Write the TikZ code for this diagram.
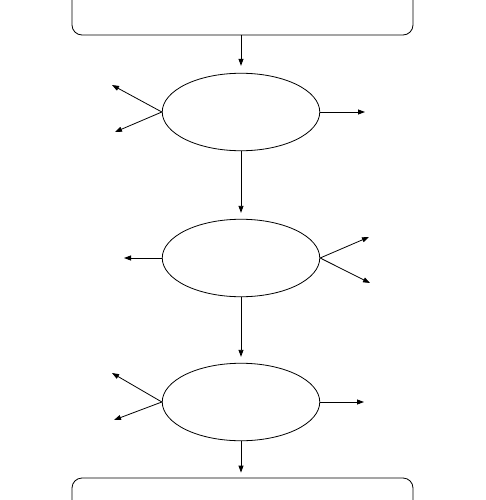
\documentclass[tikz,border=0pt]{standalone}
\usetikzlibrary{arrows.meta,shapes.geometric}
\begin{document}
\begin{tikzpicture}[x=1pt,y=-1pt,
  every path/.style={line width=0.8pt},
  conn/.style={draw,-{Triangle[length=7pt,width=5pt]}},
  flowbox/.style={draw,rounded corners=10pt,minimum width=341pt,minimum height=80pt,inner sep=0pt},
  stage/.style={draw,ellipse,minimum width=157.5pt,minimum height=77.5pt,inner sep=0pt}]
\useasboundingbox (0,0) rectangle (486,500);
\node[flowbox] (top) at (242.5,-5) {};
\node[flowbox] (bot) at (242.5,518) {};
\node[stage] (e1) at (241,112) {};
\node[stage] (e2) at (241,258) {};
\node[stage] (e3) at (241,402) {};
\coordinate (a1) at (112,85);
\coordinate (a2) at (115,132);
\coordinate (a3) at (365,112);
\coordinate (b1) at (124,258);
\coordinate (b2) at (369,237);
\coordinate (b3) at (370,283);
\coordinate (c1) at (112,373);
\coordinate (c2) at (114,420);
\coordinate (c3) at (364,402);
\path[conn,shorten >=7pt] (top.south -| e1) -- (e1.north);
\path[conn,shorten >=6pt] (e1.south) -- (e2.north);
\path[conn,shorten >=6pt] (e2.south) -- (e3.north);
\path[conn,shorten >=5pt] (e3.south) -- (bot.north -| e3);
\path[conn] (e1.west) -- (a1);
\path[conn] (e1.west) -- (a2);
\path[conn] (e1.east) -- (a3);
\path[conn] (e2.west) -- (b1);
\path[conn] (e2.east) -- (b2);
\path[conn] (e2.east) -- (b3);
\path[conn] (e3.west) -- (c1);
\path[conn] (e3.west) -- (c2);
\path[conn] (e3.east) -- (c3);
\end{tikzpicture}
\end{document}
